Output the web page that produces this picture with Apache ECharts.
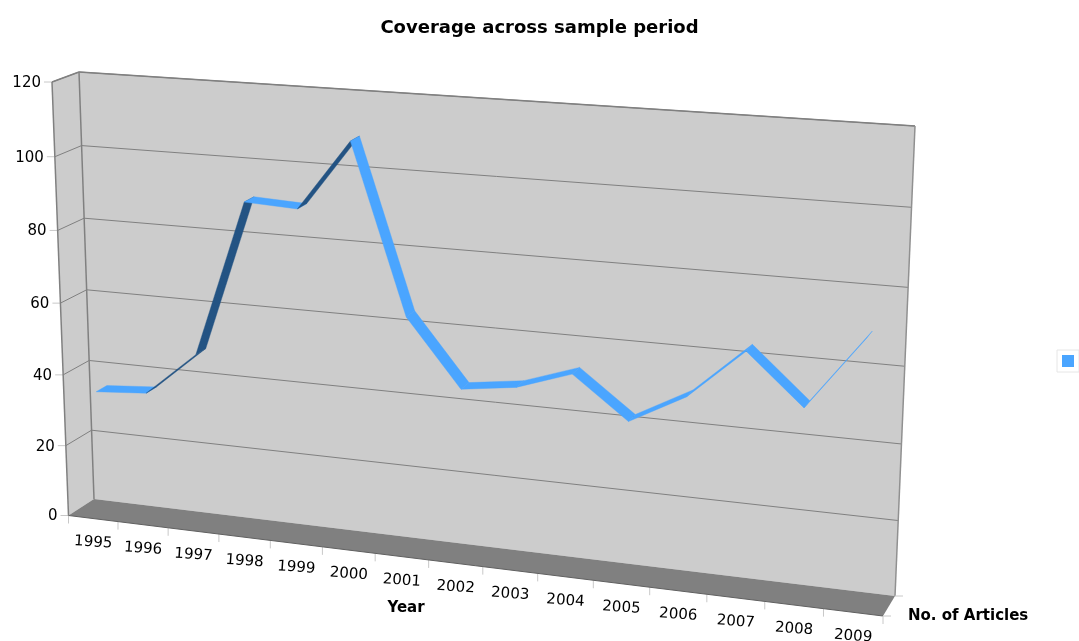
<!DOCTYPE html>
<html><head><meta charset="utf-8">
<style>html,body{margin:0;padding:0;background:#fff}#c{width:1079px;height:641px}</style>
<script src="https://cdn.jsdelivr.net/npm/echarts@6/dist/echarts.min.js"></script>
</head><body><div id="c"></div>
<script>
const years = ['1995','1996','1997','1998','1999','2000','2001','2002','2003','2004','2005','2006','2007','2008','2009'];
const articles = [34.8,35.9,48.1,90.8,90.1,109,63.9,46,48,53,42,50,63.3,50.2,69.5];
const yTicks = [0,20,40,60,80,100,120];

const FONT = '"DejaVu Sans", sans-serif';
const LIGHT = '#4aa5ff', DARK = '#235383', EDGE = '#808080', WALL = '#cccccc', FLOOR = '#808080', TICK = '#c8c8c8';

// Perspective box: corners [bottom-left, bottom-right, top-right, top-left]
function homography(q){
  const [[x0,y0],[x1,y1],[x2,y2],[x3,y3]] = q;
  const dx1=x1-x2, dx2=x3-x2, sx=x0-x1+x2-x3, dy1=y1-y2, dy2=y3-y2, sy=y0-y1+y2-y3;
  const den=dx1*dy2-dx2*dy1, g=(sx*dy2-dx2*sy)/den, h=(dx1*sy-sx*dy1)/den;
  const a=x1-x0+g*x1, b=x3-x0+h*x3, d=y1-y0+g*y1, e=y3-y0+h*y3;
  return (u,v)=>{const w=g*u+h*v+1;return [(a*u+b*v+x0)/w,(d*u+e*v+y0)/w];};
}
const back = homography([[94,499],[895,596],[915,126],[79,72]]);
const front = homography([[68.5,515.5],[883,616],[902,140],[52,82]]);
const RIBBON_FRONT = 0.29, RIBBON_BACK = 0.71;

function place(params, px){
  const r = params.coordSys;
  return [(px[0]-r.x)/r.width, (r.y+r.height-px[1])/r.height];
}
function at(uv, z){
  const f=front(uv[0],uv[1]), b=back(uv[0],uv[1]);
  return [f[0]+(b[0]-f[0])*z, f[1]+(b[1]-f[1])*z];
}
const line=(a,b,stroke,w)=>({type:'line',silent:true,shape:{x1:a[0],y1:a[1],x2:b[0],y2:b[1]},style:{stroke,lineWidth:w}});
const poly=(pts,fill,sw)=>({type:'polygon',silent:true,shape:{points:pts},style:{fill,stroke:sw?fill:null,lineWidth:sw||0}});

function renderFrame(){
  const c=(u,v,z)=>at([u,v],z);
  return {type:'group',children:[
    poly([c(0,0,1),c(1,0,1),c(1,1,1),c(0,1,1)],WALL),
    poly([c(0,0,0),c(0,0,1),c(0,1,1),c(0,1,0)],WALL),
    poly([c(0,0,0),c(1,0,0),c(1,0,1),c(0,0,1)],FLOOR),
  ]};
}
function renderEdges(){
  const c=(u,v,z)=>at([u,v],z);
  return {type:'group',children:[
    line(c(0,1,0),c(0,1,1),EDGE,1.5),
    line(c(0,1,1),c(1,1,1),EDGE,1.5),
    line(c(1,1,1),c(1,0,1),'#909090',1.5),
    line(c(0,1,0),c(0,0,0),EDGE,1.5),
    line(c(0,1,1),c(0,0,1),EDGE,1.5),
    line(c(0,0,0),c(1,0,0),'#606060',1),
    line(c(1,0,0),[c(1,0,0)[0]+8,c(1,0,0)[1]],TICK,1),
    line(c(1,0,0),[c(1,0,0)[0],c(1,0,0)[1]+8],TICK,1),
    line(c(1,0,1),[c(1,0,1)[0]+8,c(1,0,1)[1]],TICK,1),
  ]};
}
function renderYTick(params, api){
  const uv=place(params, api.coord([0, api.value(0)]));
  const v=uv[1], f=at([0,v],0), b=at([0,v],1), r=at([1,v],1);
  const kids=[];
  if(v>0){ kids.push(line(b,r,EDGE,1)); kids.push(line(f,b,EDGE,1)); }
  kids.push(line([f[0]-8,f[1]],f,TICK,1));
  kids.push({type:'text',silent:true,x:f[0]-11,y:f[1]+1,style:{text:String(yTicks[params.dataIndex]),font:'15px '+FONT,fill:'#000',align:'right',verticalAlign:'middle'}});
  return {type:'group',children:kids};
}
function renderXTick(params, api){
  const i=api.value(0), bw=api.size([1,0])[0];
  const cx=api.coord([i,0]);
  const uvC=place(params,cx), uvL=place(params,[cx[0]-bw/2,cx[1]]);
  const t=at(uvL,0), m=at(uvC,0);
  return {type:'group',children:[
    line(t,[t[0],t[1]+8],TICK,1),
    {type:'text',silent:true,x:m[0],y:m[1]+24,rotation:-4*Math.PI/180,style:{text:years[i],font:'15px '+FONT,fill:'#000',align:'center',verticalAlign:'middle'}}
  ]};
}
function renderRibbon(params, api){
  const i=params.dataIndex;
  if(i>=articles.length-1) return {type:'group',children:[]};
  const a=place(params,api.coord([i,articles[i]])), b=place(params,api.coord([i+1,articles[i+1]]));
  const f0=at(a,RIBBON_FRONT), f1=at(b,RIBBON_FRONT), b1=at(b,RIBBON_BACK), b0=at(a,RIBBON_BACK);
  const cross=(f1[0]-f0[0])*(b0[1]-f0[1])-(f1[1]-f0[1])*(b0[0]-f0[0]);
  return poly([f0,f1,b1,b0], cross<0?LIGHT:DARK, 0.4);
}

const chart=echarts.init(document.getElementById('c'),null,{renderer:'canvas'});
const idx=years.map((y,i)=>[i]);
chart.setOption({
  animation:false,
  backgroundColor:'#ffffff',
  title:{text:'Coverage across sample period',left:'center',top:14,textStyle:{fontFamily:FONT,fontWeight:'bold',fontSize:18,color:'#000'}},
  legend:{left:1057,top:350,padding:5,itemWidth:12,itemHeight:12,backgroundColor:'#fff',borderColor:'#e6e6e6',borderWidth:1,formatter:()=>'',selectedMode:false,
    data:[{name:'No. of Articles',icon:'rect',itemStyle:{color:LIGHT}}]},
  grid:{left:79,top:72,width:836,height:427,containLabel:false},
  xAxis:{type:'category',data:years,show:false},
  yAxis:{type:'value',min:0,max:120,interval:20,show:false},
  graphic:[
    {type:'text',silent:true,x:406,y:608,style:{text:'Year',font:'bold 15px '+FONT,fill:'#000',align:'center',verticalAlign:'middle'}},
    {type:'text',silent:true,x:908,y:616,style:{text:'No. of Articles',font:'bold 15px '+FONT,fill:'#000',align:'left',verticalAlign:'middle'}}
  ],
  series:[
    {type:'custom',name:'frame',clip:false,silent:true,z:1,data:[[0]],renderItem:renderFrame},
    {type:'custom',name:'yTicks',clip:false,silent:true,z:2,data:yTicks.map(v=>[v]),encode:{y:0},renderItem:renderYTick},
    {type:'custom',name:'xTicks',clip:false,silent:true,z:2,data:idx,encode:{x:0},renderItem:renderXTick},
    {type:'custom',name:'edges',clip:false,silent:true,z:3,data:[[0]],renderItem:renderEdges},
    {type:'custom',name:'No. of Articles',clip:false,silent:true,z:4,itemStyle:{color:LIGHT},data:articles.map((v,i)=>[i,v]),encode:{x:0,y:1},renderItem:renderRibbon}
  ]
});
</script></body></html>
